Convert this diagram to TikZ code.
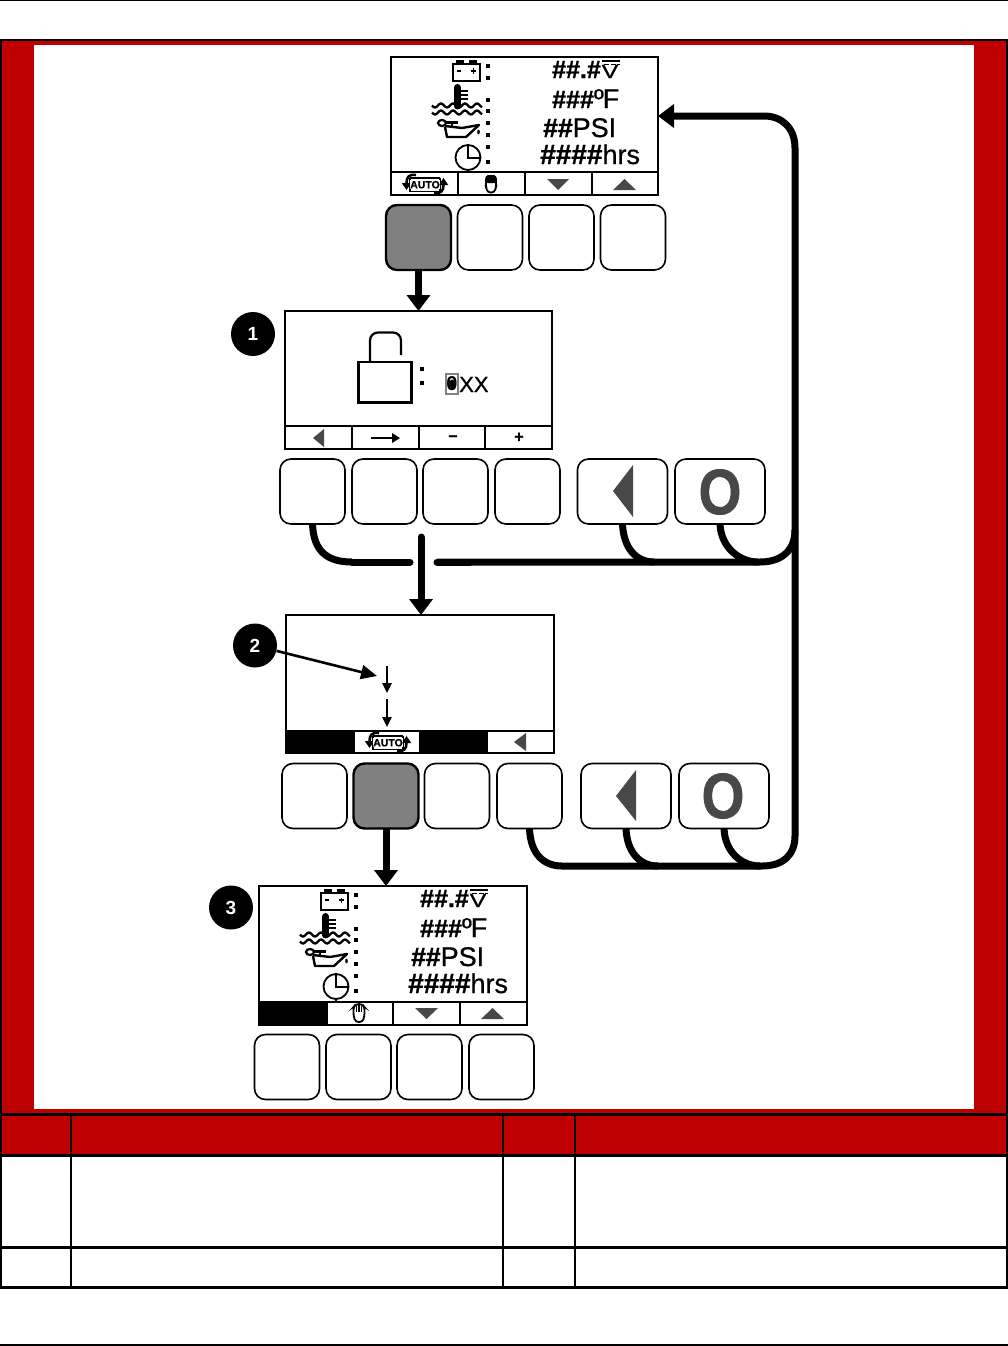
\documentclass[tikz,border=0pt]{standalone}
\usepackage{fontspec}
\setmainfont{Liberation Sans}
\newfontfamily\heavyfont[FakeBold=1.2]{Liberation Sans Bold}
\newfontfamily\midfont[FakeBold=0.7]{Liberation Sans}
\usetikzlibrary{arrows.meta,calc}
\definecolor{framered}{HTML}{BF0000}
\definecolor{keygray}{HTML}{808080}
\definecolor{symgray}{HTML}{484848}
\tikzset{
  lcd/.style={draw=black,line width=1.8pt,fill=white,inner sep=0pt,outer sep=0pt},
  softline/.style={draw=black,line width=2.2pt},
  keybtn/.style={draw=black,line width=1.6pt,fill=white,rounded corners=11pt,inner sep=0pt,outer sep=0pt,minimum height=65pt},
  smallkey/.style={keybtn,minimum width=65pt},
  widekey/.style={keybtn,minimum width=90pt},
  pressed/.style={smallkey,fill=keygray,line width=2.4pt},
  flow/.style={draw=black,line width=7pt},
  flowarrow/.style={draw=black,line width=7pt,-{Triangle[length=16pt,width=23pt]}},
  badge/.style={circle,fill=black,text=white,minimum size=44pt,inner sep=0pt,font=\fontsize{19}{19}\selectfont\bfseries},
  readout/.style={anchor=base west,inner sep=0pt,font=\fontsize{27}{27}\selectfont\midfont},
  cellline/.style={draw=black,line width=2pt},
  autotext/.style={inner sep=0pt,font=\fontsize{10.5}{11}\selectfont\heavyfont}
}
\newcommand{\colondots}[2]{\fill (#1-2.4,#2-2.4) rectangle (#1+2.4,#2+2.4);}
\newcommand{\autoicon}[2]{%
  \begin{scope}[shift={(#1,#2)}]
    \draw[line width=1.8pt] (-15,-6) -- (15,-6) (-15,7.5) -- (15,7.5) (-15,-6) -- (-15,7.5) (15,-6) -- (15,7.5);
    \draw[line width=2.6pt,-{Triangle[length=7pt,width=9pt]}] (-9,-9) .. controls (-16,-10) and (-18.5,-7) .. (-18.5,6);
    \draw[line width=2.6pt,-{Triangle[length=7pt,width=9pt]}] (9,9) .. controls (16,10) and (18.5,7) .. (18.5,-6);
    \node[autotext,fill=white,inner xsep=0.5pt,inner ysep=0.5pt] at (0,0.7) {AUTO};
  \end{scope}}
\newcommand{\handiconfull}[2]{%
  \begin{scope}[shift={(#1,#2)}]
    \draw[line width=1.8pt,fill=white,rounded corners=3pt] (-5,-8) -- (5,-8) -- (5,3) -- (3.5,8.5) -- (-3.5,8.5) -- (-5,3) -- cycle;
    \fill[black,rounded corners=2pt] (-5,-9) -- (5,-9) -- (5.5,-1) -- (-5.5,-1) -- cycle;
  \end{scope}}
\newcommand{\handiconopen}[2]{%
  \begin{scope}[shift={(#1,#2)}]
    \draw[line width=1.8pt,fill=white,rounded corners=3pt] (-5.5,-6) -- (-3,-9) -- (3,-9) -- (5.5,-6) -- (5.5,3) -- (3.5,9) -- (-3.5,9) -- (-5.5,3) -- cycle;
    \draw[line width=1.3pt] (-2.5,-7) -- (-2.5,-1) (0,-8) -- (0,-1) (2.5,-7) -- (2.5,-1);
  \end{scope}}
\newcommand{\statuspanel}{%
  % battery
  \draw[line width=2pt] (453,64) rectangle (480,81);
  \fill (456,60) rectangle (464,64);
  \fill (469,60) rectangle (477,64);
  \draw[line width=1.5pt] (457,71) -- (461,71) (471,71) -- (476,71) (473.5,68.5) -- (473.5,73.5);
  % thermometer and waves
  \draw[line width=2.3pt] plot[smooth,domain=0:50,samples=41] ({432+\x},{105.5+2*sin(\x*30)});
  \draw[line width=2.3pt] plot[smooth,domain=0:50,samples=41] ({432+\x},{112.5+2*sin(\x*30)});
  \draw[line width=7pt,line cap=round] (457.5,87.5) -- (457.5,106);
  \draw[line width=2pt] (460,90.5) -- (468,90.5) (460,94.5) -- (468,94.5) (460,98.5) -- (468,98.5);
  % oil can
  \draw[line width=2.4pt,line join=round] (445,127) -- (447,137) -- (466,137) -- (479,125) -- (462,128) -- (445,126);
  \draw[line width=2.2pt] (442,123) ellipse (4 and 3);
  \draw[line width=2.4pt] (446,122.5) -- (458,122.5) (452,122) -- (452,126);
  \fill (478.5,132) ellipse (1.3 and 2.4);
  % clock
  \draw[line width=1.8pt] (468,157.5) circle (12.5);
  \draw[line width=1.8pt] (468,146) -- (468,158) -- (480,158);
  \fill (468,171) circle (1.4);
  % colons
  \colondots{488}{66}\colondots{488}{78}
  \colondots{488}{100}\colondots{488}{111}
  \colondots{488}{123}\colondots{488}{135}
  \colondots{488}{147}\colondots{488}{162}
  % readouts
  \node[readout,font=\fontsize{25}{25}\selectfont\heavyfont] at (552,78) {\#\#.\#};
  \node[readout,anchor=base,xscale=1.3,font=\fontsize{19}{19}\selectfont\midfont] at (610,78) {V};
  \draw[line width=1.8pt] (602,61) -- (620,61);
  \draw[line width=1.6pt,dash pattern=on 5pt off 1.5pt] (604,64.5) -- (620,64.5);
  \node[readout] at (552,108) {{\fontsize{25}{25}\selectfont\heavyfont\#\#\#}\kern0pt º\kern-1pt F};
  \node[readout] at (543,137) {{\fontsize{26.5}{26.5}\selectfont\heavyfont\#\#}\fontsize{27}{27}\selectfont PSI};
  \node[readout] at (540,164) {{\fontsize{28}{28}\selectfont\heavyfont\#\#\#\#}hrs};
}
\begin{document}
\begin{tikzpicture}[x=1pt,y=-1pt]
\useasboundingbox (0,0) rectangle (1008,1346);
\fill[white] (0,0) rectangle (1008,1346);
% page rules
\fill[black] (0,0) rectangle (1008,1.5);
\fill[black] (0,1343.5) rectangle (1008,1345.5);
% red frame
\fill[framered] (0,39) rectangle (1008,1114);
\draw[black,line width=2pt] (1,40) rectangle (1007,1114);
\fill[white] (34,45) rectangle (974,1109);
% table
\fill[framered] (1,1114) rectangle (1007,1155);
\draw[line width=3pt] (0,1114.5) -- (1008,1114.5);
\draw[line width=3pt] (0,1155) -- (1008,1155);
\draw[line width=3pt] (0,1247) -- (1008,1247);
\draw[line width=3pt] (0,1287) -- (1008,1287);
\foreach \cx in {1,71,502.5,575,1007}{\draw[cellline] (\cx,1114) -- (\cx,1287);}

% ---- first display
\node[lcd,anchor=north west,minimum width=267pt,minimum height=138pt] (d1) at (391,57) {};
\draw[softline] (391,172) -- (658,172) (458,172) -- (458,195) (525,172) -- (525,195) (592,172) -- (592,195);
\statuspanel
\autoicon{425}{184}
\handiconfull{491}{184}
\fill[symgray] (547,179) -- (569,179) -- (558,190) -- cycle;
\fill[symgray] (613,190) -- (636,190) -- (624.5,179) -- cycle;
\node[pressed] (a1) at (418.5,237.5) {};
\node[smallkey] (a2) at (490,237.5) {};
\node[smallkey] (a3) at (561.5,237.5) {};
\node[smallkey] (a4) at (633,237.5) {};

% ---- lock display
\node[lcd,anchor=north west,minimum width=267pt,minimum height=138pt] (d2) at (285,311) {};
\draw[softline] (285,426) -- (552,426) (352,426) -- (352,449) (419,426) -- (419,449) (485,426) -- (485,449);
\fill[symgray] (324,429) -- (324,447) -- (313,438) -- cycle;
\draw[line width=1.6pt] (371,438) -- (392,438);
\fill (392,433) -- (400,438) -- (392,443) -- cycle;
\node[inner sep=0pt,font=\fontsize{16}{16}\selectfont\heavyfont] (minus) at (453,438) {–};
\node[inner sep=0pt,font=\fontsize{16}{16}\selectfont\heavyfont] (plus) at (519,437.5) {+};
\draw[line width=2.4pt,line join=miter] (358.5,362) rectangle (411.5,402.5);
\draw[line width=2.2pt,rounded corners=8pt] (370,362) -- (370,332.5) -- (401,332.5) -- (401,355);
\colondots{422}{369}\colondots{422}{383}
\draw[draw=gray,line width=2pt,fill=white] (446,374) rectangle (458,394);
\node[inner sep=0pt,font=\fontsize{20}{20}\selectfont\bfseries] (zero) at (452,384) {0};
\fill (452,384) ellipse (2.8 and 4.5);
\node[readout,font=\fontsize{22}{22}\selectfont\midfont] (xx) at (459,392) {XX};
\node[badge] (n1) at (253,334) {1};
\node[smallkey] (b1) at (312.5,491.5) {};
\node[smallkey] (b2) at (384.5,491.5) {};
\node[smallkey] (b3) at (455.5,491.5) {};
\node[smallkey] (b4) at (527.5,491.5) {};
\node[widekey] (b5) at (622.5,491.5) {};
\node[widekey] (b6) at (720,491.5) {};
\fill[symgray] (633,465) -- (633,517) -- (613,491) -- cycle;
\node[inner sep=0pt,text=symgray,xscale=.86,font=\fontsize{64}{64}\selectfont\heavyfont] (o1) at (720,492) {O};

% ---- middle display
\node[lcd,anchor=north west,minimum width=268pt,minimum height=138pt] (d3) at (286,615) {};
\fill (286,730) rectangle (554,753);
\fill[white] (355,732) rectangle (419,752);
\fill[white] (488,732) rectangle (553,752);
\fill[symgray] (526,733) -- (526,751) -- (514,742) -- cycle;
\autoicon{388}{742}
\node[badge] (n2) at (255,645.5) {2};
\coordinate (t2) at (377,676);
\draw[line width=2.6pt,-{Triangle[length=16pt,width=14pt]}] (n2) -- (t2);
\coordinate (s1) at (387,666);\coordinate (e1) at (387,693);
\coordinate (s2) at (387,699);\coordinate (e2) at (387,727);
\draw[line width=2.4pt,-{Triangle[length=10pt,width=9pt]}] (s1) -- (e1);
\draw[line width=2.4pt,-{Triangle[length=10pt,width=9pt]}] (s2) -- (e2);
\node[smallkey] (c1) at (314.5,796) {};
\node[pressed] (c2) at (386,796) {};
\node[smallkey] (c3) at (457,796) {};
\node[smallkey] (c4) at (529.5,796) {};
\node[widekey] (c5) at (626,796) {};
\node[widekey] (c6) at (724,796) {};
\fill[symgray] (636,770) -- (636,821) -- (616,796) -- cycle;
\node[inner sep=0pt,text=symgray,xscale=.86,font=\fontsize{64}{64}\selectfont\heavyfont] (o2) at (723,796) {O};

% ---- last display
\node[lcd,anchor=north west,minimum width=268pt,minimum height=139pt] (d4) at (259,886) {};
\draw[softline] (259,1002) -- (527,1002) (393,1002) -- (393,1025) (460,1002) -- (460,1025);
\fill (259,1002) rectangle (327,1025);
\draw[line width=2pt] (327,1002) -- (327,1025);
\begin{scope}[shift={(-132,829)}]
\statuspanel
\end{scope}
\handiconopen{359}{1013}
\fill[symgray] (415,1008) -- (438,1008) -- (426.5,1019) -- cycle;
\fill[symgray] (481,1019) -- (504,1019) -- (492.5,1008) -- cycle;
\node[badge] (n3) at (231,907.5) {3};
\node[smallkey] (e1k) at (287,1067) {};
\node[smallkey] (e2k) at (358.5,1067) {};
\node[smallkey] (e3k) at (429.5,1067) {};
\node[smallkey] (e4k) at (501.5,1067) {};

% ---- vertical flow arrows
\draw[flowarrow] (a1.south) -- (d2.north -| a1.south);
\coordinate (m1) at (421,537);
\draw[flowarrow,line cap=round] (m1) -- (d3.north -| m1);
\draw[flowarrow] (c2.south) -- (d4.north -| c2.south);

% ---- return loop
\coordinate (gapl) at (410,562);
\coordinate (gapr) at (437,562);
\coordinate (rail) at (795,530);
\coordinate (railb) at (795,836);
\coordinate (railt) at (795,148);
\coordinate (top) at (764,116);
\draw[flow,line cap=round] (352,562) -- (gapl) (gapr) -- (470,562);
\draw[flow] (b1.south) .. controls +(1,28) and +(-24,0) .. (352,562);
\draw[flow] (gapr) -- (760,562) .. controls +(22,0) and +(0,20) .. (rail);
\draw[flow] (b5.south) .. controls +(1,24) and +(-18,0) .. (654,562);
\draw[flow] (b6.south) .. controls +(1,24) and +(-18,0) .. (758,562);
\draw[flow] (c4.south) .. controls +(1,26) and +(-18,0) .. (562,866) -- (762,866) .. controls +(22,0) and +(0,18) .. (railb);
\draw[flow] (c5.south) .. controls +(1,24) and +(-18,0) .. (658,866);
\draw[flow] (c6.south) .. controls +(1,24) and +(-18,0) .. (760,866);
\draw[flowarrow] (railb) -- (railt) .. controls +(0,-20) and +(18,0) .. (top) -- (d1.east |- top);
\end{tikzpicture}
\end{document}
